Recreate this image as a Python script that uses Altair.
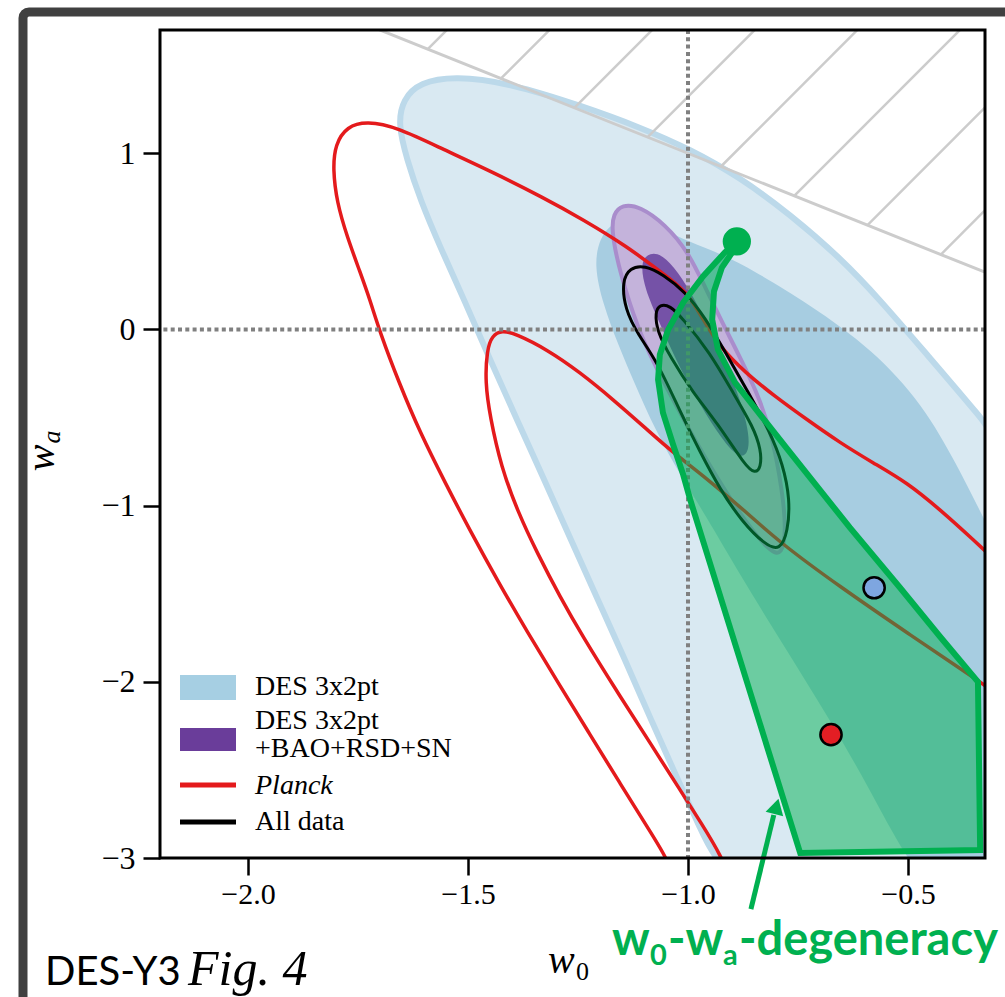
import altair as alt
import numpy as np
import pandas as pd

# ---- axes ---------------------------------------------------------------
W0_RANGE = [-2.2, -0.325]
WA_RANGE = [-3.0, 1.7]
W0_TICKS = [-2.0, -1.5, -1.0, -0.5]
WA_TICKS = [-3, -2, -1, 0, 1]

# ---- contours (w0, wa) --------------------------------------------------
# DES 3x2pt, 95% region (runs off the right and bottom edges)
des_outer = [(-1.659, 1.165), (-1.648, 1.307), (-1.609, 1.403), (-1.530, 1.438),
             (-1.405, 1.398), (-1.239, 1.267), (-1.109, 1.148), (-0.995, 1.023),
             (-0.882, 0.864), (-0.768, 0.653), (-0.655, 0.409), (-0.564, 0.170),
             (-0.457, -0.142), (-0.336, -0.494), (-0.268, -0.710), (-0.200, -3.239),
             (-0.836, -3.295), (-0.943, -2.994), (-0.970, -2.841), (-1.023, -2.557),
             (-1.084, -2.216), (-1.143, -1.875), (-1.205, -1.534), (-1.266, -1.193),
             (-1.327, -0.852), (-1.389, -0.511), (-1.450, -0.170), (-1.509, 0.170),
             (-1.561, 0.455), (-1.609, 0.739), (-1.639, 0.966)]
# DES 3x2pt, 68% region
des_inner = [(-1.214, 0.369), (-1.200, 0.523), (-1.173, 0.602), (-1.132, 0.636),
             (-1.064, 0.580), (-0.995, 0.494), (-0.934, 0.438), (-0.866, 0.358),
             (-0.723, 0.142), (-0.580, -0.114), (-0.466, -0.426), (-0.389, -0.767),
             (-0.330, -1.063), (-0.268, -1.364), (-0.200, -3.239), (-0.427, -3.239),
             (-0.507, -2.994), (-0.586, -2.614), (-0.677, -2.216), (-0.791, -1.761),
             (-0.882, -1.392), (-0.961, -1.051), (-1.018, -0.824), (-1.075, -0.568),
             (-1.120, -0.313), (-1.159, -0.085), (-1.193, 0.142)]
# DES 3x2pt + BAO + RSD + SN
ext_outer = [(-1.170, 0.653), (-1.150, 0.710), (-1.109, 0.699), (-1.052, 0.597),
             (-1.000, 0.443), (-0.961, 0.239), (-0.923, 0.045), (-0.877, -0.182),
             (-0.836, -0.398), (-0.807, -0.625), (-0.786, -0.909), (-0.777, -1.136),
             (-0.786, -1.284), (-0.814, -1.261), (-0.870, -1.091), (-0.932, -0.852),
             (-0.995, -0.580), (-1.059, -0.284), (-1.109, -0.028), (-1.143, 0.227),
             (-1.164, 0.426), (-1.173, 0.568)]
ext_inner = [(-1.109, 0.386), (-1.086, 0.438), (-1.059, 0.426), (-1.023, 0.330),
             (-0.984, 0.170), (-0.939, -0.057), (-0.893, -0.313), (-0.864, -0.540),
             (-0.859, -0.693), (-0.882, -0.739), (-0.923, -0.625), (-0.973, -0.426),
             (-1.023, -0.199), (-1.068, 0.057), (-1.098, 0.227)]
# All data
all_outer = [(-1.150, 0.273), (-1.132, 0.352), (-1.098, 0.364), (-1.057, 0.313),
             (-1.007, 0.216), (-0.961, 0.068), (-0.916, -0.125), (-0.864, -0.352),
             (-0.814, -0.580), (-0.784, -0.767), (-0.768, -0.966), (-0.773, -1.148),
             (-0.791, -1.256), (-0.825, -1.222), (-0.877, -1.091), (-0.927, -0.909),
             (-0.973, -0.693), (-1.018, -0.466), (-1.070, -0.182), (-1.114, -0.028),
             (-1.143, 0.114)]
all_inner = [(-1.075, 0.097), (-1.064, 0.142), (-1.041, 0.136), (-1.014, 0.068),
             (-0.950, -0.131), (-0.898, -0.358), (-0.852, -0.551), (-0.834, -0.682),
             (-0.834, -0.784), (-0.848, -0.818), (-0.870, -0.773), (-0.934, -0.528),
             (-0.989, -0.358), (-1.041, -0.153), (-1.070, -0.011)]
# Planck (open curves leaving the frame)
planck_outer = [(-1.030, -3.125), (-1.050, -2.994), (-1.084, -2.858), (-1.155, -2.574),
                (-1.225, -2.290), (-1.295, -2.006), (-1.364, -1.722), (-1.430, -1.438),
                (-1.493, -1.153), (-1.552, -0.869), (-1.609, -0.585), (-1.657, -0.301),
                (-1.700, -0.017), (-1.723, 0.170), (-1.745, 0.324), (-1.775, 0.528),
                (-1.798, 0.722), (-1.807, 0.909), (-1.802, 1.051), (-1.775, 1.153),
                (-1.730, 1.182), (-1.661, 1.148), (-1.557, 1.023), (-1.443, 0.892),
                (-1.330, 0.750), (-1.239, 0.625), (-1.139, 0.472), (-1.064, 0.330),
                (-1.002, 0.216), (-0.966, 0.057), (-0.927, -0.102), (-0.870, -0.244),
                (-0.802, -0.381), (-0.730, -0.511), (-0.655, -0.642), (-0.580, -0.756),
                (-0.502, -0.869), (-0.427, -1.023), (-0.352, -1.193), (-0.280, -1.360)]
planck_inner = [(-0.905, -3.125), (-0.923, -2.994), (-0.970, -2.801), (-1.018, -2.614),
                (-1.086, -2.347), (-1.164, -2.045), (-1.239, -1.744), (-1.291, -1.517),
                (-1.343, -1.267), (-1.386, -1.040), (-1.425, -0.778), (-1.450, -0.494),
                (-1.461, -0.301), (-1.457, -0.114), (-1.445, -0.034), (-1.423, -0.006),
                (-1.393, -0.023), (-1.320, -0.114), (-1.245, -0.244), (-1.170, -0.398),
                (-1.093, -0.568), (-1.034, -0.699), (-0.973, -0.813), (-0.866, -1.040),
                (-0.791, -1.210), (-0.655, -1.460), (-0.502, -1.722), (-0.343, -1.989),
                (-0.280, -2.100)]
# highlighted w0-wa degeneracy region
degeneracy = [(-0.889, 0.500), (-0.898, 0.443), (-0.923, 0.352), (-0.941, 0.216),
              (-0.945, 0.057), (-0.932, -0.114), (-0.893, -0.301), (-0.836, -0.483),
              (-0.775, -0.676), (-0.632, -1.125), (-0.518, -1.466), (-0.427, -1.744),
              (-0.341, -2.000), (-0.336, -2.955), (-0.745, -2.972), (-0.995, -0.966),
              (-1.011, -0.824), (-1.034, -0.653), (-1.057, -0.472), (-1.068, -0.284),
              (-1.064, -0.142), (-1.045, 0.000), (-1.011, 0.153), (-0.966, 0.301),
              (-0.916, 0.438)]

# marked models
green_pt = [(-0.889, 0.50)]
blue_pt = [(-0.577, -1.466)]
red_pt = [(-0.675, -2.30)]

legend_labels = ["DES 3x2pt", "DES 3x2pt", "+BAO+RSD+SN", "Planck", "All data"]

# ---- shared encodings -----------------------------------------------------
xs = alt.Scale(domain=W0_RANGE, nice=False, zero=False)
ys = alt.Scale(domain=WA_RANGE, nice=False, zero=False)
x_axis = alt.Axis(values=W0_TICKS, format=".1f", title="", grid=False, domain=False,
                  tickColor="black", tickWidth=2.5, tickSize=17,
                  labelFont="Liberation Serif", labelFontSize=30, labelColor="black",
                  labelPadding=4, labelFlush=False)
y_axis = alt.Axis(values=WA_TICKS, format="d", title="", grid=False, domain=False,
                  tickColor="black", tickWidth=2.5, tickSize=17,
                  labelFont="Liberation Serif", labelFontSize=32, labelColor="black",
                  labelPadding=8, labelFlush=False)
X = alt.X("w0:Q", scale=xs, axis=x_axis)
Y = alt.Y("wa:Q", scale=ys, axis=y_axis)


def frame(points):
    df = pd.DataFrame(points, columns=["w0", "wa"])
    df["i"] = np.arange(len(df))
    return df


def path(points, **style):
    return (alt.Chart(frame(points))
            .mark_line(clip=True, **style)
            .encode(x=X, y=Y, order=alt.Order("i:Q")))


# prior boundary w0 + wa = 0 with hatching above it (45 degree strokes on screen)
bound = pd.DataFrame({"w0": [-2.2, 0.0], "wa": [2.2, 0.0]})
hatch_rows = []
for k, w_top in enumerate(-1.548 + 0.2332 * np.arange(8)):
    c = WA_RANGE[1] - 2.5 * w_top
    end_wa = WA_RANGE[1] + 1.0
    hatch_rows += [dict(w0=-c / 3.5, wa=c / 3.5, k=k, i=0),
                   dict(w0=(end_wa - c) / 2.5, wa=end_wa, k=k, i=1)]
hatch = pd.DataFrame(hatch_rows)

layers = [
    path(des_outer, fill="#d9e9f2", stroke="#bcd9ea", strokeWidth=6,
         interpolate="basis-closed"),
    path(des_inner, fill="#a7cde1", strokeWidth=0, interpolate="basis-closed"),
    alt.Chart(hatch).mark_line(clip=True, color="#cccccc", strokeWidth=2.5)
    .encode(x=X, y=Y, detail="k:N", order=alt.Order("i:Q")),
    alt.Chart(bound).mark_line(clip=True, color="#cccccc", strokeWidth=3)
    .encode(x=X, y=Y),
    path(ext_outer, fill="#c4b3db", stroke="#a98dcc", strokeWidth=4,
         interpolate="basis-closed"),
    path(ext_inner, fill="#7552a7", strokeWidth=0, interpolate="basis-closed"),
    path(planck_outer, stroke="#e41a1c", strokeWidth=3.5, interpolate="basis"),
    path(planck_inner, stroke="#e41a1c", strokeWidth=3.5, interpolate="basis"),
    path(all_outer, stroke="black", strokeWidth=3, interpolate="basis-closed"),
    path(all_inner, stroke="black", strokeWidth=3, interpolate="basis-closed"),
    alt.Chart(pd.DataFrame({"w0": [-1.0]})).mark_rule(
        color="#808080", strokeWidth=4, strokeDash=[4, 3.3]).encode(x=X),
    alt.Chart(pd.DataFrame({"wa": [0.0]})).mark_rule(
        color="#808080", strokeWidth=4, strokeDash=[4, 3.3]).encode(y=Y),
    path(degeneracy, fill="#00b050", fillOpacity=0.5, stroke="#00b050",
         strokeWidth=6, strokeJoin="miter", interpolate="linear-closed"),
    alt.Chart(frame(green_pt)).mark_circle(size=800, color="#00b050", opacity=1)
    .encode(x=X, y=Y),
    alt.Chart(frame(blue_pt)).mark_point(size=450, filled=True, fill="#7ea6e0",
                                         stroke="black", strokeWidth=2.5, opacity=1)
    .encode(x=X, y=Y),
    alt.Chart(frame(red_pt)).mark_point(size=450, filled=True, fill="#e31e24",
                                        stroke="black", strokeWidth=2.5, opacity=1)
    .encode(x=X, y=Y),
]

# arrow pointing at the degeneracy region
arrow_shaft = [(-0.857, -3.290), (-0.805, -2.756)]
arrow_head = [(-0.799, -2.707)]
layers += [
    alt.Chart(frame(arrow_shaft)).mark_line(color="#00b050", strokeWidth=5)
    .encode(x=X, y=Y, order=alt.Order("i:Q")),
    alt.Chart(frame(arrow_head)).mark_point(shape="triangle-up", size=330, angle=15,
                                            filled=True, color="#00b050", opacity=1)
    .encode(x=X, y=Y),
]

PW, PH = 825, 828

# plot frame
layers.append(
    alt.Chart(pd.DataFrame({"a": [0]})).mark_rect(fillOpacity=0, stroke="black",
                                                  strokeWidth=3)
    .encode(x=alt.value(0), x2=alt.value(PW), y=alt.value(0), y2=alt.value(PH)))

# legend
for col, y0, y1 in [("#a6cfe3", 645, 670), ("#6a3d9a", 698, 721)]:
    layers.append(alt.Chart(pd.DataFrame({"a": [0]})).mark_rect(color=col).encode(
        x=alt.value(20), x2=alt.value(76), y=alt.value(y0), y2=alt.value(y1)))
for col, yy in [("#e41a1c", 755), ("black", 792)]:
    layers.append(alt.Chart(pd.DataFrame({"a": [0]})).mark_rule(color=col, strokeWidth=5)
                  .encode(x=alt.value(20), x2=alt.value(76), y=alt.value(yy)))
for lab, yy, sty in zip(legend_labels, [657, 691, 719, 756, 792],
                        ["normal", "normal", "normal", "italic", "normal"]):
    layers.append(alt.Chart(pd.DataFrame({"t": [lab]})).mark_text(
        align="left", baseline="middle", font="Liberation Serif", fontSize=28,
        fontStyle=sty, color="black").encode(
        x=alt.value(95), y=alt.value(yy), text="t:N"))


def label(txt, x, y, **style):
    return alt.Chart(pd.DataFrame({"t": [txt]})).mark_text(**style).encode(
        x=alt.value(x), y=alt.value(y), text="t:N")


serif = dict(font="Liberation Serif", color="black")
layers += [
    # axis titles
    label("w", 388, 943, align="left", baseline="alphabetic", fontSize=40,
          fontStyle="italic", **serif),
    label("0", 416, 950, align="left", baseline="alphabetic", fontSize=26, **serif),
    label("w", -118, 428, align="center", baseline="middle", fontSize=40,
          fontStyle="italic", angle=270, **serif),
    label("a", -108, 407, align="center", baseline="middle", fontSize=26,
          fontStyle="italic", angle=270, **serif),
    # source note
    label("DES-Y3", -115, 955, align="left", baseline="alphabetic", fontSize=40,
          font="Lato", color="black"),
    label("Fig. 4", 28, 955, align="left", baseline="alphabetic", fontSize=50,
          font="Liberation Serif", fontStyle="italic", color="black"),
]

green = dict(font="Lato", fontWeight="bold", color="#00b050", align="left",
             baseline="alphabetic")
layers += [
    label("w", 452, 925, fontSize=47, **green),
    label("0", 490, 935, fontSize=29, **green),
    label("-w", 508, 925, fontSize=47, **green),
    label("a", 563, 935, fontSize=29, **green),
    label("-degeneracy", 579, 925, fontSize=47, **green),
]

# outer border of the panel
layers.append(
    alt.Chart(pd.DataFrame({"a": [0]})).mark_rect(fillOpacity=0, stroke="#404040",
                                                  strokeWidth=9, cornerRadius=6)
    .encode(x=alt.value(-137), x2=alt.value(900), y=alt.value(-18), y2=alt.value(1000)))

chart = alt.layer(*layers).properties(
    width=PW, height=PH,
    autosize=alt.AutoSizeParams(type="none"),
    padding={"left": 160, "top": 30, "right": 20, "bottom": 139},
    background="white",
).configure_view(strokeOpacity=0)

chart.save("out.html", embed_options={"renderer": "svg", "actions": False})
